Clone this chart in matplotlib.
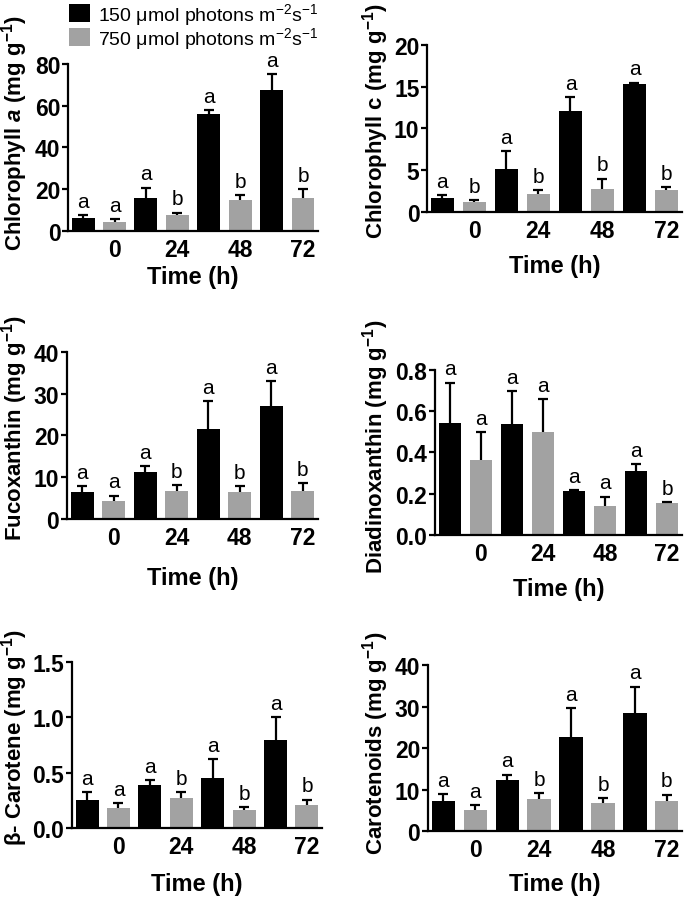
import matplotlib
matplotlib.use("Agg")
import matplotlib.pyplot as plt
from matplotlib.patches import Patch
import numpy as np

plt.rcParams["font.family"] = ["Liberation Sans", "DejaVu Sans"]
plt.rcParams["mathtext.fontset"] = "custom"
plt.rcParams["mathtext.rm"] = "Liberation Sans"
plt.rcParams["mathtext.bf"] = "Liberation Sans:bold"
plt.rcParams["mathtext.it"] = "Liberation Sans:italic"
plt.rcParams["mathtext.bfit"] = "Liberation Sans:bold:italic"

time_labels = ["0", "24", "48", "72"]
series_names = [r"150 μmol photons m$^{-2}$s$^{-1}$", r"750 μmol photons m$^{-2}$s$^{-1}$"]

chla_low = [6.4, 16.0, 56.2, 67.7]
chla_low_err = [1.1, 4.8, 1.9, 7.5]
chla_high = [4.5, 7.7, 14.6, 15.7]
chla_high_err = [1.1, 1.1, 2.7, 4.3]
chla_letters = ["a", "a", "a", "b", "a", "b", "a", "b"]

chlc_low = [1.71, 5.18, 12.07, 15.3]
chlc_low_err = [0.3, 2.07, 1.73, 0.2]
chlc_high = [1.2, 2.19, 2.8, 2.67]
chlc_high_err = [0.2, 0.41, 1.2, 0.33]
chlc_letters = ["a", "b", "a", "b", "a", "b", "a", "b"]

fuco_low = [6.4, 11.2, 21.6, 27.0]
fuco_low_err = [1.5, 1.4, 6.6, 6.0]
fuco_high = [4.4, 6.8, 6.4, 6.7]
fuco_high_err = [1.2, 1.4, 1.4, 1.9]
fuco_letters = ["a", "a", "a", "b", "a", "b", "a", "b"]

diadino_low = [0.541, 0.537, 0.213, 0.309]
diadino_low_err = [0.198, 0.161, 0.005, 0.035]
diadino_high = [0.364, 0.501, 0.14, 0.155]
diadino_high_err = [0.135, 0.16, 0.046, 0.003]
diadino_letters = ["a", "a", "a", "a", "a", "a", "a", "b"]

bcar_low = [0.254, 0.392, 0.45, 0.794]
bcar_low_err = [0.069, 0.037, 0.172, 0.205]
bcar_high = [0.178, 0.269, 0.16, 0.208]
bcar_high_err = [0.045, 0.054, 0.03, 0.049]
bcar_letters = ["a", "a", "a", "b", "a", "b", "a", "b"]

carot_low = [7.2, 12.3, 22.6, 28.4]
carot_low_err = [1.8, 1.3, 7.0, 6.4]
carot_high = [5.0, 7.7, 6.8, 7.2]
carot_high_err = [1.2, 1.4, 1.2, 1.6]
carot_letters = ["a", "a", "a", "b", "a", "b", "a", "b"]

GREY = "#a2a2a2"

panels = [
    # rect, ylabel, low, low_err, high, high_err, letters, ytop, yticks, xlabelpad, ylabel coords
    ([0.0993, 0.7434, 0.365, 0.1847], r"Chlorophyll $\mathbfit{a}$ (mg g$^{\mathbf{-1}}$)",
     chla_low, chla_low_err, chla_high, chla_high_err, chla_letters, 80, [0, 20, 40, 60, 80],
     3, (-0.152, 0.59)),
    ([0.6234, 0.7644, 0.372, 0.1847], r"Chlorophyll c (mg g$^{\mathbf{-1}}$)",
     chlc_low, chlc_low_err, chlc_high, chlc_high_err, chlc_letters, 20, [0, 5, 10, 15, 20],
     9, (-0.14, 0.55)),
    ([0.0978, 0.4248, 0.366, 0.1847], r"Fucoxanthin (mg g$^{\mathbf{-1}}$)",
     fuco_low, fuco_low_err, fuco_high, fuco_high_err, fuco_letters, 40, [0, 10, 20, 30, 40],
     12, (-0.148, 0.55)),
    ([0.635, 0.4071, 0.3606, 0.1825], r"Diadinoxanthin (mg g$^{\mathbf{-1}}$)",
     diadino_low, diadino_low_err, diadino_high, diadino_high_err, diadino_letters, 0.8,
     [0.0, 0.2, 0.4, 0.6, 0.8], 9, (-0.178, 0.54)),
    ([0.1051, 0.0830, 0.365, 0.1836], r"β- Carotene (mg g$^{\mathbf{-1}}$)",
     bcar_low, bcar_low_err, bcar_high, bcar_high_err, bcar_letters, 1.5, [0.0, 0.5, 1.0, 1.5],
     10, (-0.168, 0.55)),
    ([0.6248, 0.0796, 0.371, 0.1836], r"Carotenoids (mg g$^{\mathbf{-1}}$)",
     carot_low, carot_low_err, carot_high, carot_high_err, carot_letters, 40, [0, 10, 20, 30, 40],
     8, (-0.145, 0.536)),
]

fig = plt.figure(figsize=(6.85, 9.04), dpi=100)

for rect, ylabel, low, low_err, high, high_err, letters, ytop, yticks, xpad, ycoords in panels:
    ax = fig.add_axes(rect)
    n = len(low)
    x_low = np.arange(n) * 2
    x_high = x_low + 1
    ax.bar(x_low, low, width=0.73, color="black", zorder=2)
    ax.bar(x_high, high, width=0.73, color=GREY, zorder=2)

    # upper error bars only: stem from bar top plus a cap
    for xs, vals, errs in [(x_low, low, low_err), (x_high, high, high_err)]:
        vals = np.asarray(vals)
        tops = vals + np.asarray(errs)
        ax.vlines(xs, vals, tops, color="black", linewidth=1.6, zorder=3)
        ax.plot(xs, tops, linestyle="none", marker="_", markersize=6.5,
                markeredgewidth=1.6, color="black", zorder=3)

    tops = []
    for i in range(n):
        tops.append((x_low[i], low[i] + low_err[i]))
        tops.append((x_high[i], high[i] + high_err[i]))
    for (xp, yp), lab in zip(tops, letters):
        ax.annotate(lab, (xp, yp), xytext=(0, 3), textcoords="offset points",
                    ha="center", va="bottom", fontsize=15, annotation_clip=False)

    ax.set_xlim(-0.48, 2 * n - 0.52)
    ax.set_ylim(0, ytop)
    ax.set_yticks(yticks)
    ax.set_xticks(x_high)
    ax.set_xticklabels(time_labels)
    for s in ["top", "right"]:
        ax.spines[s].set_visible(False)
    for s in ["left", "bottom"]:
        ax.spines[s].set_linewidth(1.6)
    ax.tick_params(axis="y", direction="out", length=4, width=1.6, labelsize=16.5, pad=1.5)
    ax.tick_params(axis="x", direction="in", length=3, width=1.5, labelsize=16.5, pad=5)
    for t in ax.get_xticklabels() + ax.get_yticklabels():
        t.set_fontweight("bold")
    ax.set_ylabel(ylabel, fontsize=16, fontweight="bold")
    ax.yaxis.set_label_coords(*ycoords)
    ax.set_xlabel("Time (h)", fontsize=17, fontweight="bold", labelpad=xpad)

handles = [Patch(facecolor="black"), Patch(facecolor=GREY)]
fig.legend(handles, series_names, loc="upper left", bbox_to_anchor=(0.1, 0.998),
           frameon=False, fontsize=14, handlelength=1.1, handleheight=1.0,
           handletextpad=0.4, labelspacing=-0.1, borderaxespad=0.0, borderpad=0.0)

fig.savefig("out.png", dpi=100)
